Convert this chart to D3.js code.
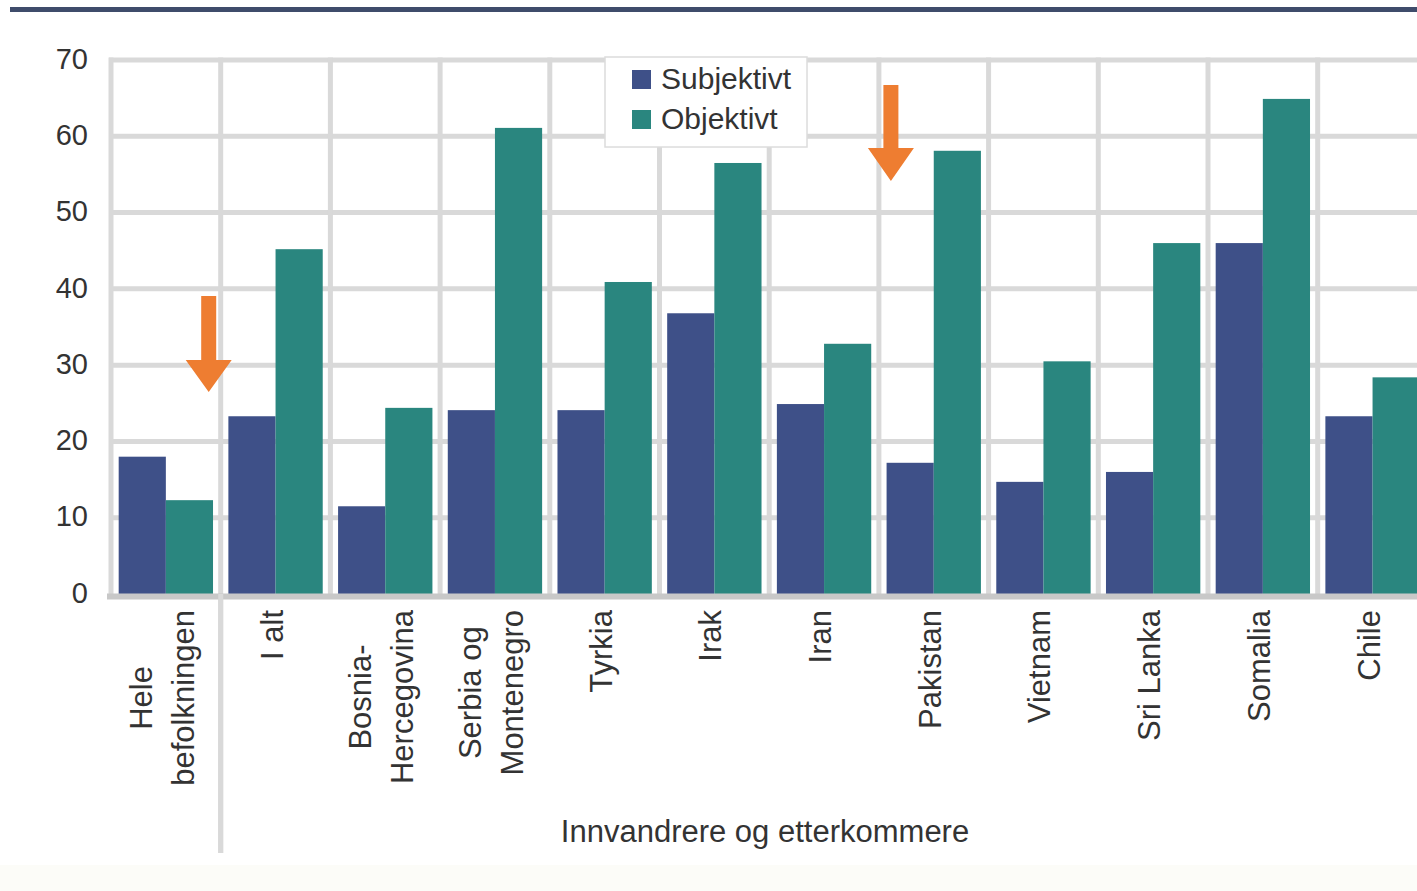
<!DOCTYPE html>
<html><head><meta charset="utf-8">
<script src="https://cdn.jsdelivr.net/npm/d3@7"></script>
<style>
html,body{margin:0;padding:0;background:#fff;overflow:hidden}
text{font-family:"Liberation Sans",Arial,sans-serif;fill:#333}
</style></head>
<body><svg id="chart" width="1417" height="891"></svg>
<script>
const categories = ["Hele befolkningen","I alt","Bosnia-Hercegovina","Serbia og Montenegro","Tyrkia","Irak","Iran","Pakistan","Vietnam","Sri Lanka","Somalia","Chile"];
const labelLines = [["Hele","befolkningen"],["I alt"],["Bosnia-","Hercegovina"],["Serbia og","Montenegro"],["Tyrkia"],["Irak"],["Iran"],["Pakistan"],["Vietnam"],["Sri Lanka"],["Somalia"],["Chile"]];
const subjektivt = [18, 23.3, 11.5, 24.1, 24.1, 36.8, 24.9, 17.2, 14.7, 16, 46, 23.3];
const objektivt  = [12.3, 45.2, 24.4, 61.1, 40.9, 56.5, 32.8, 58.1, 30.5, 46, 64.9, 28.4];
const seriesNames = ["Subjektivt","Objektivt"];
const yTicks = [0,10,20,30,40,50,60,70];
const groupTitle = "Innvandrere og etterkommere";

const colors = {Subjektivt:"#3e5088", Objektivt:"#2a867f"};
const svg = d3.select("#chart");
const W = 1417, H = 891;

// faint background strip at bottom
svg.append("rect").attr("x",0).attr("y",865).attr("width",W).attr("height",H-865).attr("fill","#fcfcf8");
// top rule
svg.append("rect").attr("x",10).attr("y",7).attr("width",W-10).attr("height",5).attr("fill","#3f4c6b");

const left = 111, step = 109.7;
const x0 = d3.scaleBand().domain(categories).range([left, left + step*categories.length]).paddingInner(0.14).paddingOuter(0.07);
const x1 = d3.scaleBand().domain(seriesNames).range([0, x0.bandwidth()]).padding(0);
const y = d3.scaleLinear().domain([0,70]).range([594, 60]);

const grid = "#d9d9d9";
// horizontal gridlines
svg.append("g").selectAll("line").data(yTicks.filter(d=>d>0)).join("line")
  .attr("x1", left-2).attr("x2", W).attr("y1", d=>y(d)).attr("y2", d=>y(d))
  .attr("stroke", grid).attr("stroke-width", 5);
// vertical gridlines (cell boundaries)
const bounds = categories.map(c => x0(c) - x0.step()*x0.paddingInner()/2);
svg.append("g").selectAll("line").data(bounds).join("line")
  .attr("x1", d=>d).attr("x2", d=>d).attr("y1", y(70)-2.5).attr("y2", (d,i)=> i===1 ? 853 : y(0))
  .attr("stroke", grid).attr("stroke-width", 5);

// bars
const series = [subjektivt, objektivt];
const g = svg.append("g");
categories.forEach((c,i)=>{
  seriesNames.forEach((s,j)=>{
    const v = series[j][i];
    g.append("rect").attr("x", x0(c)+x1(s)).attr("width", x1.bandwidth())
      .attr("y", y(v)).attr("height", y(0)-y(v)).attr("fill", colors[s]);
  });
});

// baseline
svg.append("line").attr("x1", left-4).attr("x2", W).attr("y1", y(0)+2.5).attr("y2", y(0)+2.5)
  .attr("stroke", "#c8c8c8").attr("stroke-width", 6);
svg.append("line").attr("x1", bounds[1]).attr("x2", bounds[1]).attr("y1", y(0)).attr("y2", 853)
  .attr("stroke", grid).attr("stroke-width", 5);

// y axis labels
const yAxis = d3.axisLeft(y).tickValues(yTicks).tickSize(0).tickPadding(0);
const ya = svg.append("g").attr("transform", `translate(88,-1)`).call(yAxis);
ya.select(".domain").remove();
ya.selectAll("text").style("font-size","29px").style("font-family","Liberation Sans, Arial, sans-serif").attr("fill","#333");

// category labels (rotated, lines centered, block top at y=610)
const lineGap = 42;
categories.forEach((c,i)=>{
  const lines = labelLines[i];
  const cx = x0(c) + x0.bandwidth()/2;
  const tg = svg.append("g");
  const texts = lines.map((t,k)=> tg.append("text").text(t).style("font-size","31px"));
  const maxW = d3.max(texts, t=>t.node().getComputedTextLength());
  const n = lines.length;
  texts.forEach((t,k)=>{
    const off = (k - (n-1)/2) * lineGap;
    const bx = cx + off + 7;
    const cy = 610 + maxW/2;
    t.attr("text-anchor","middle").attr("transform", `translate(${bx},${cy}) rotate(-90)`);
  });
});

// group title
svg.append("text").attr("x", 765).attr("y", 842).attr("text-anchor","middle").style("font-size","31px").text(groupTitle);

// legend
const lg = svg.append("g");
lg.append("rect").attr("x",605).attr("y",57).attr("width",202).attr("height",90).attr("fill","#fff").attr("stroke","#dcdcdc").attr("stroke-width",1.5);
seriesNames.forEach((s,j)=>{
  lg.append("rect").attr("x",632).attr("y",70+j*40).attr("width",19).attr("height",19).attr("fill",colors[s]);
  lg.append("text").attr("x",661).attr("y",89+j*40).style("font-size","30px").text(s);
});

// orange arrows (annotations)
function arrow(cx, top, shaftBottom, tip){
  const sw = 7.5, hw = 23;
  const p = `M${cx-sw},${top} L${cx+sw},${top} L${cx+sw},${shaftBottom} L${cx+hw},${shaftBottom} L${cx},${tip} L${cx-hw},${shaftBottom} L${cx-sw},${shaftBottom} Z`;
  svg.append("path").attr("d", p).attr("fill","#ee7d31");
}
arrow(bounds[1]-12, 296, 360, 392);
arrow(bounds[7]+12, 85, 148, 181);
</script></body></html>
